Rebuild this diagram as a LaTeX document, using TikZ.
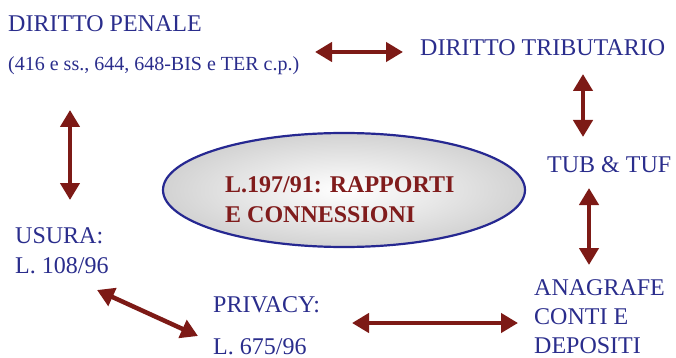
\documentclass[tikz,border=0pt]{standalone}
\usepackage{fontspec}
\setmainfont{Liberation Serif}
\usetikzlibrary{arrows.meta,shapes.geometric,positioning}
\definecolor{testo}{RGB}{42,45,140}
\definecolor{freccia}{RGB}{125,26,22}
\definecolor{rosso}{RGB}{128,28,28}
\definecolor{bordo}{RGB}{38,40,145}

\begin{document}
\begin{tikzpicture}[x=1pt,y=-1pt,
  voce/.style={text=testo,font=\fontsize{24}{30}\selectfont,inner sep=0pt,
     anchor=base west,align=left},
  link/.style={{Triangle[length=17pt,width=19pt]}-{Triangle[length=17pt,width=19pt]},
     line width=4.5pt,draw=freccia}]
\useasboundingbox (0,0) rectangle (676,358);
% central ellipse
\node[ellipse,draw=bordo,line width=2.2pt,inner color=white,outer color=gray!35,
  minimum width=362pt,minimum height=114pt,inner sep=0pt] (legge) at (344,190) {};
\node[voce,text=rosso,font=\fontsize{24}{30}\selectfont\bfseries] (titolo) at (225,222)
  {L.197/91: RAPPORTI\\E CONNESSIONI};
% surrounding topics
\node[voce] (penale) at (8,32) {DIRITTO PENALE};
\node[voce,font=\fontsize{20}{24}\selectfont] (cp) at (8,71) {(416 e ss., 644, 648-BIS e TER c.p.)};
\node[voce] (tributario) at (420,56) {DIRITTO TRIBUTARIO};
\node[voce] (tub) at (547,172) {TUB \& TUF};
\node[voce,font=\fontsize{24}{29}\selectfont] (anagrafe) at (534,353) {ANAGRAFE\\CONTI E\\DEPOSITI};
\node[voce] (privacy) at (213,312) {PRIVACY:};
\node[voce] (privacyl) at (213,354) {L. 675/96};
\node[voce] (usura) at (15,273) {USURA:\\L. 108/96};
% arrow ends
\coordinate (a1) at (315,52);  \coordinate (a2) at (403,52);
\coordinate (b1) at (583,74);  \coordinate (b2) at (583,137);
\coordinate (c1) at (589,188); \coordinate (c2) at (589,265);
\coordinate (d1) at (352,323); \coordinate (d2) at (518,323);
\coordinate (e1) at (97,290);  \coordinate (e2) at (198,336);
\coordinate (f1) at (70,110);  \coordinate (f2) at (70,200);
\draw[link] (a1)--(a2); \draw[link] (b1)--(b2);
\draw[link] (c1)--(c2); \draw[link] (d1)--(d2);
\draw[link] (e1)--(e2); \draw[link] (f1)--(f2);
\end{tikzpicture}
\end{document}
